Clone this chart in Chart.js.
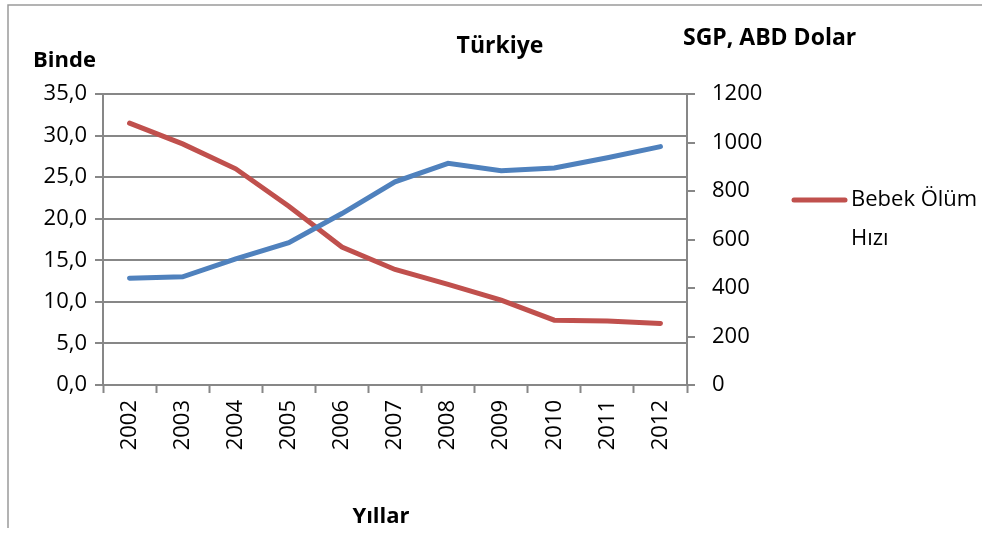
<!DOCTYPE html>
<html lang="tr">
<head>
    <meta charset="UTF-8">
    <title>Türkiye</title>
    <script src="https://cdn.jsdelivr.net/npm/chart.js"></script>
    <style>
        body {
            margin: 0;
            padding: 0;
            background-color: #ffffff;
        }

        .wrap {
            width: 982px;
            height: 533px;
            position: relative;
        }
    </style>
</head>
<body>
    <div class="wrap">
        <canvas id="chart" width="982" height="533"></canvas>
    </div>

    <script>
        // data
        const years = ['2002', '2003', '2004', '2005', '2006', '2007', '2008', '2009', '2010', '2011', '2012'];
        const bebekOlum = [31.5, 29.0, 26.0, 21.5, 16.6, 13.9, 12.1, 10.2, 7.8, 7.7, 7.4];
        const sgp = [440, 446, 520, 587, 707, 838, 914, 884, 895, 937, 983];
        const leftTicks = [0, 5, 10, 15, 20, 25, 30, 35];
        const rightTicks = [0, 200, 400, 600, 800, 1000, 1200];

        const FONT = '"Open Sans", sans-serif';
        const GRID = '#878787';

        // frame, axis titles and legend drawn on top
        const extras = {
            id: 'extras',
            beforeDraw(chart) {
                const ctx = chart.ctx;
                ctx.save();
                ctx.strokeStyle = '#9a9a9a';
                ctx.lineWidth = 1.5;
                ctx.beginPath();
                ctx.moveTo(8, 528);
                ctx.lineTo(8, 5);
                ctx.lineTo(982, 5);
                ctx.stroke();
                ctx.restore();
            },
            afterDraw(chart) {
                const ctx = chart.ctx;
                const a = chart.chartArea;
                ctx.save();
                ctx.fillStyle = '#000';
                ctx.textBaseline = 'middle';
                ctx.font = 'bold 22px ' + FONT;
                ctx.textAlign = 'left';
                ctx.fillText('Binde', 33, a.top - 33);
                ctx.font = 'bold 23px ' + FONT;
                ctx.fillText('SGP, ABD Dolar', a.right - 4, a.top - 56);
                ctx.textAlign = 'center';
                ctx.fillText('Türkiye', 500, a.top - 48);
                ctx.font = 'bold 22px ' + FONT;
                ctx.fillText('Yıllar', 381, 517);

                // legend (only the red series is listed)
                const ly = 200;
                ctx.strokeStyle = '#C0504D';
                ctx.lineWidth = 5;
                ctx.lineCap = 'round';
                ctx.beginPath();
                ctx.moveTo(794, ly);
                ctx.lineTo(845, ly);
                ctx.stroke();
                ctx.font = '22px ' + FONT;
                ctx.textAlign = 'left';
                ctx.fillText('Bebek Ölüm', 851, ly);
                ctx.fillText('Hızı', 851, ly + 39);
                ctx.restore();
            }
        };

        new Chart(document.getElementById('chart').getContext('2d'), {
            type: 'line',
            data: {
                labels: years,
                datasets: [
                    {
                        label: 'SGP',
                        data: sgp,
                        yAxisID: 'y1',
                        borderColor: '#4F81BD',
                        backgroundColor: '#4F81BD',
                        borderWidth: 5,
                        borderCapStyle: 'round',
                        pointRadius: 0,
                        tension: 0
                    },
                    {
                        label: 'Bebek Ölüm Hızı',
                        data: bebekOlum,
                        yAxisID: 'y',
                        borderColor: '#C0504D',
                        backgroundColor: '#C0504D',
                        borderWidth: 5,
                        borderCapStyle: 'round',
                        pointRadius: 0,
                        tension: 0
                    }
                ]
            },
            options: {
                responsive: false,
                animation: false,
                layout: { padding: { top: 94, left: 0, right: 0, bottom: 0 } },
                plugins: {
                    legend: { display: false },
                    title: { display: false },
                    tooltip: { enabled: false }
                },
                scales: {
                    x: {
                        offset: true,
                        afterFit(s) { s.height = 148; },
                        grid: {
                            drawOnChartArea: false,
                            drawTicks: true,
                            tickLength: 8,
                            tickColor: GRID,
                            tickWidth: 2,
                            offset: true
                        },
                        border: { color: GRID, width: 2 },
                        ticks: {
                            minRotation: 90,
                            maxRotation: 90,
                            padding: 7,
                            color: '#000',
                            font: { family: FONT, size: 22 }
                        }
                    },
                    y: {
                        position: 'left',
                        min: 0,
                        max: 35,
                        afterFit(s) { s.width = 103; },
                        afterBuildTicks(s) { s.ticks = leftTicks.map(v => ({ value: v })); },
                        grid: {
                            color: GRID,
                            lineWidth: 2,
                            tickLength: 8,
                            drawTicks: true
                        },
                        border: { color: GRID, width: 2 },
                        ticks: {
                            padding: 8,
                            color: '#000',
                            font: { family: FONT, size: 22 },
                            callback: v => v.toFixed(1).replace('.', ',')
                        }
                    },
                    y1: {
                        position: 'right',
                        min: 0,
                        max: 1200,
                        afterFit(s) { s.width = 295; },
                        afterBuildTicks(s) { s.ticks = rightTicks.map(v => ({ value: v })); },
                        grid: {
                            drawOnChartArea: false,
                            color: GRID,
                            lineWidth: 2,
                            tickLength: 8,
                            drawTicks: true
                        },
                        border: { color: GRID, width: 2 },
                        ticks: {
                            padding: 17,
                            color: '#000',
                            font: { family: FONT, size: 22 },
                            callback: v => String(v)
                        }
                    }
                }
            },
            plugins: [extras]
        });
    </script>
</body>
</html>
